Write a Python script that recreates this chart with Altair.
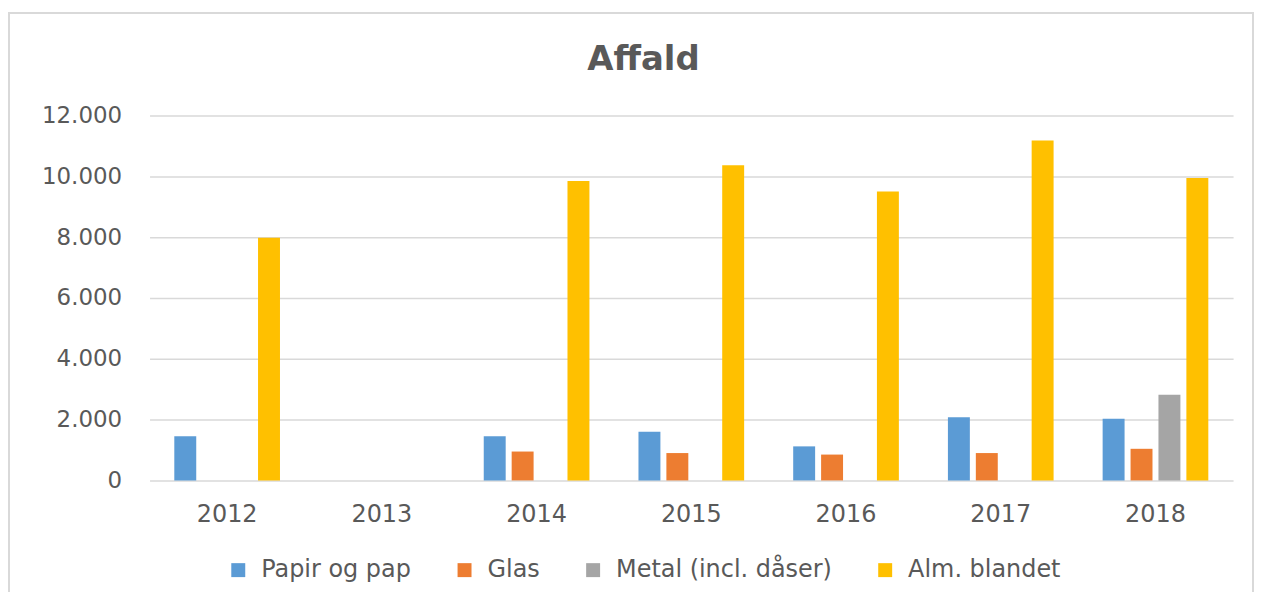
import altair as alt
import pandas as pd

years = ["2012", "2013", "2014", "2015", "2016", "2017", "2018"]
series = ["Papir og pap", "Glas", "Metal (incl. dåser)", "Alm. blandet"]
colors = ["#5B9BD5", "#ED7D31", "#A5A5A5", "#FFC000"]
papir = [1450, None, 1450, 1600, 1120, 2080, 2030]
glas = [None, None, 950, 900, 850, 900, 1040]
metal = [None, None, None, None, None, None, 2820]
alm = [7980, None, 9850, 10370, 9500, 11180, 9950]
y_ticks = [0, 2000, 4000, 6000, 8000, 10000, 12000]

rows = []
for s, vals in zip(series, [papir, glas, metal, alm]):
    for yr, v in zip(years, vals):
        if v is not None:
            rows.append({"År": yr, "Type": s, "Værdi": v})
df = pd.DataFrame(rows)

TXT = "#595959"
FONT = "DejaVu Sans"

bars = alt.Chart(df).mark_bar().encode(
    x=alt.X("År:N", sort=years,
            scale=alt.Scale(domain=years, paddingInner=0.317, paddingOuter=0.16),
            axis=alt.Axis(title=None, labelAngle=0, domain=False, ticks=False, grid=False,
                          labelFont=FONT, labelFontSize=24, labelColor=TXT, labelPadding=22)),
    xOffset=alt.XOffset("Type:N", sort=series,
                        scale=alt.Scale(domain=series, paddingInner=0.214, paddingOuter=0)),
    y=alt.Y("Værdi:Q",
            scale=alt.Scale(domain=[0, 12000], nice=False),
            axis=alt.Axis(title=None, values=y_ticks, domain=False, ticks=False,
                          labelExpr="replace(format(datum.value, ','), ',', '.')",
                          labelFont=FONT, labelFontSize=23, labelColor=TXT, labelPadding=28,
                          gridColor="#D9D9D9", gridWidth=1.5)),
    color=alt.Color("Type:N", sort=series,
                    scale=alt.Scale(domain=series, range=colors),
                    legend=alt.Legend(title=None, orient="none", direction="horizontal",
                                      legendX=77, legendY=444, symbolType="square",
                                      symbolSize=196, symbolStrokeWidth=0, labelOffset=11,
                                      columnPadding=41, labelFont=FONT, labelFontSize=24,
                                      labelLimit=500, labelColor=TXT)),
)

frame = alt.Chart(pd.DataFrame({"a": [0]})).mark_rect(
    fill=None, stroke="#D9D9D9", strokeWidth=2, clip=False
).encode(
    x=alt.value(-141), x2=alt.value(1107), y=alt.value(-103), y2=alt.value(520)
)

chart = alt.layer(frame, bars).properties(
    width=1087, height=366,
    padding={"left": 142, "top": 107, "right": 22, "bottom": 111},
    autosize=alt.AutoSizeParams(type="none"),
    title=alt.TitleParams("Affald", anchor="middle", dx=-48, offset=-65,
                          font=FONT, fontSize=34, fontWeight="bold", color=TXT),
).configure_view(stroke=None)

chart.save("out.html", embed_options={"renderer": "svg", "actions": False})
